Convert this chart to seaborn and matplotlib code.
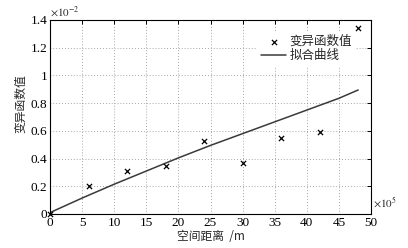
import matplotlib
matplotlib.use("Agg")
import matplotlib.pyplot as plt
import seaborn as sns
import pandas as pd

# data (x in units of 1e5 m, y in units of 1e-2)
obs_x = [0, 6, 12, 18, 24, 30, 36, 42, 48]
obs_y = [0.0, 0.20, 0.31, 0.345, 0.525, 0.365, 0.545, 0.59, 1.345]
fit_x = [0, 5, 10, 15, 20, 25, 30, 35, 40, 45, 48]
fit_y = [0.01, 0.115, 0.215, 0.31, 0.405, 0.495, 0.58, 0.665, 0.75, 0.835, 0.895]
x_ticks = [0, 5, 10, 15, 20, 25, 30, 35, 40, 45, 50]
y_ticks = [0, 0.2, 0.4, 0.6, 0.8, 1.0, 1.2, 1.4]
y_tick_labels = ["0", "0.2", "0.4", "0.6", "0.8", "1", "1.2", "1.4"]

sns.set_style("white")
plt.rcParams['font.family'] = ['Liberation Serif', 'Noto Sans CJK SC']
plt.rcParams['mathtext.fontset'] = 'stix'

fig = plt.figure(figsize=(4.08, 2.48), dpi=100)
ax = fig.add_axes([50/408, 34/248, 321/408, 194/248])

obs = pd.DataFrame({"x": obs_x, "y": obs_y})
fit = pd.DataFrame({"x": fit_x, "y": fit_y})

sns.scatterplot(data=obs, x="x", y="y", ax=ax, marker="x", color="black",
                s=14, linewidth=0.9, label="变异函数值", zorder=6, clip_on=False)
sns.lineplot(data=fit, x="x", y="y", ax=ax, color="#3a3a3a", linewidth=1.1,
             label="拟合曲线", zorder=2)

ax.set_xlim(0, 50)
ax.set_ylim(0, 1.4)
ax.set_xticks(x_ticks)
ax.set_xticklabels([str(t) for t in x_ticks])
ax.set_yticks(y_ticks)
ax.set_yticklabels(y_tick_labels)
ax.tick_params(direction="in", length=3, width=0.7, labelsize=9.5, pad=2,
               top=True, right=True, colors="black")
ax.grid(True, linestyle=(0, (1, 2.5)), color="#888888", linewidth=0.6)
for sp in ax.spines.values():
    sp.set_color("black")
    sp.set_linewidth(0.8)

ax.set_xlabel("空间距离  /m", family=['Noto Sans CJK SC'], fontsize=8.5, labelpad=1)
ax.set_ylabel("变异函数值", family=['Noto Sans CJK SC'], fontsize=8.5)
ax.yaxis.set_label_coords(-0.072, 0.567)

ax.text(0.0, 1.005, r"$\times10^{-2}$", transform=ax.transAxes, fontsize=8,
        ha="left", va="bottom")
ax.text(1.005, 0.02, r"$\times10^{5}$", transform=ax.transAxes, fontsize=8,
        ha="left", va="bottom")

leg = ax.legend(loc="upper right", bbox_to_anchor=(0.948, 0.935), frameon=True,
                prop={'family': ['Noto Sans CJK SC'], 'size': 9},
                handlelength=2.0, borderaxespad=0.0, borderpad=0.2,
                labelspacing=0.1, handletextpad=0.25)
leg.get_frame().set_edgecolor("none")
leg.get_frame().set_facecolor("white")
leg.get_frame().set_alpha(1)
leg.get_frame().set_boxstyle("square", pad=0.1)

fig.savefig("out.png", dpi=100)
